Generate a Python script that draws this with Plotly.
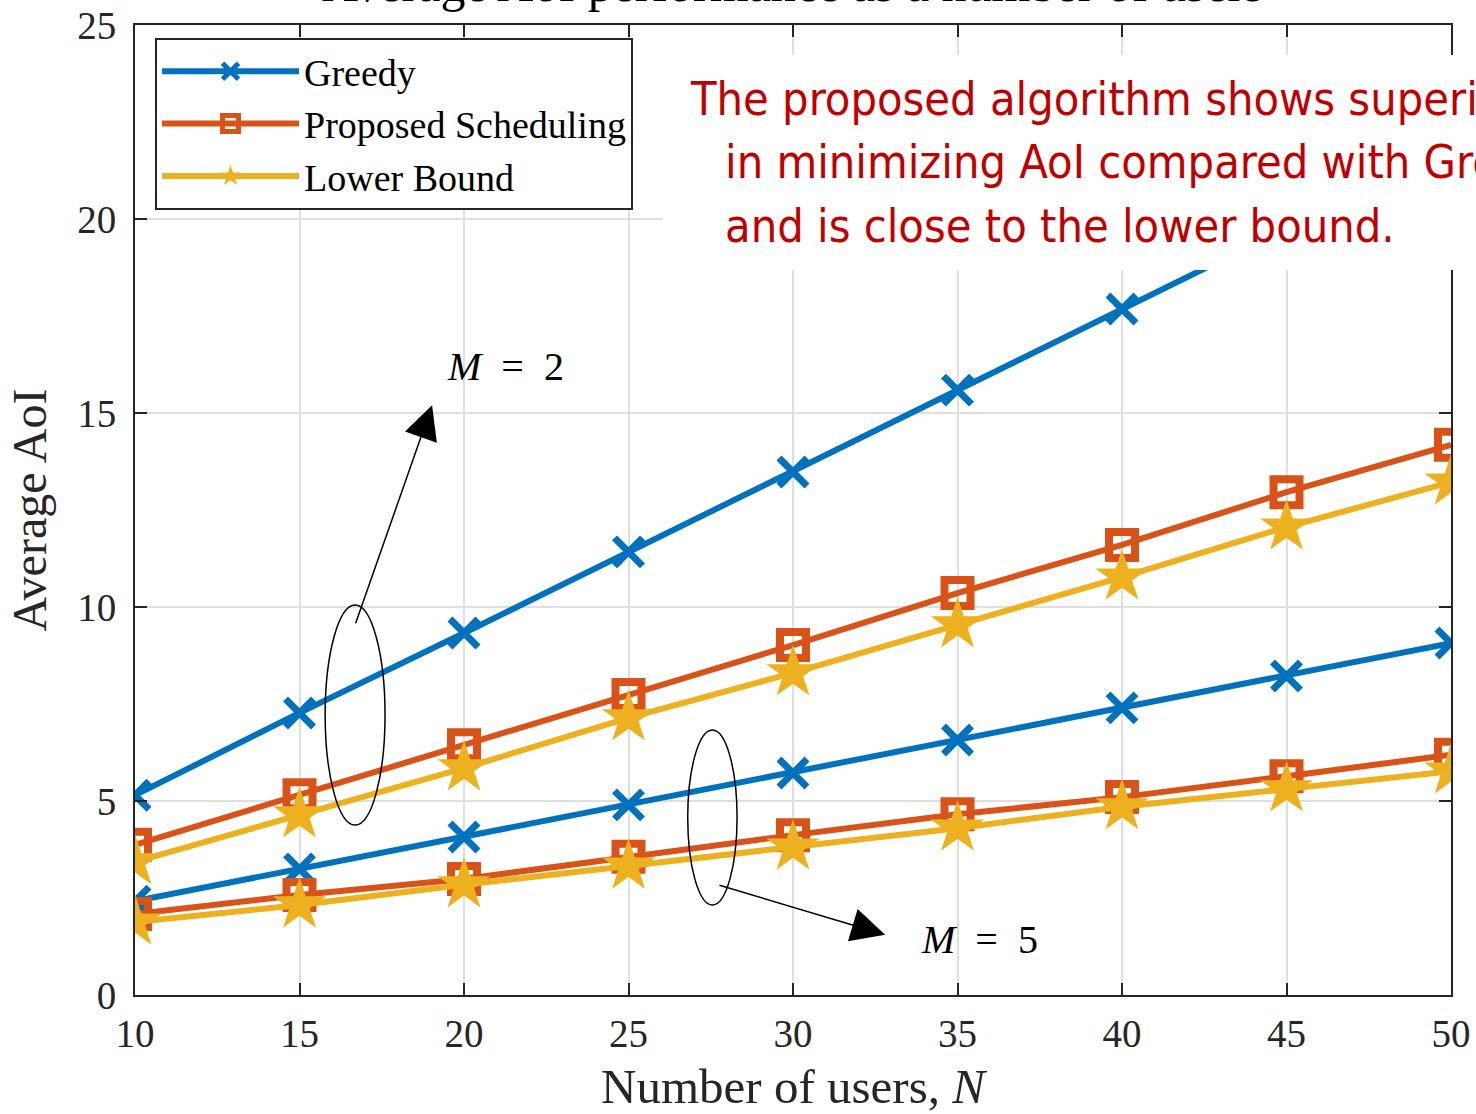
import plotly.graph_objects as go

# ---------------- data ----------------
users_n = [10, 15, 20, 25, 30, 35, 40, 45, 50]

greedy_m2 = [5.15, 7.27, 9.33, 11.42, 13.48, 15.59, 17.68, 19.75, 21.85]
proposed_m2 = [3.87, 5.15, 6.44, 7.73, 9.02, 10.36, 11.60, 12.96, 14.18]
lower_m2 = [3.43, 4.64, 5.85, 7.14, 8.30, 9.54, 10.77, 12.06, 13.22]

greedy_m5 = [2.42, 3.25, 4.07, 4.90, 5.72, 6.57, 7.40, 8.22, 9.07]
proposed_m5 = [2.09, 2.58, 2.99, 3.56, 4.12, 4.66, 5.10, 5.64, 6.19]
lower_m5 = [1.88, 2.32, 2.84, 3.32, 3.81, 4.30, 4.85, 5.31, 5.77]

series_names = ["Greedy", "Proposed Scheduling", "Lower Bound"]
x_ticks = [10, 15, 20, 25, 30, 35, 40, 45, 50]
y_ticks = [0, 5, 10, 15, 20, 25]

# ---------------- style ----------------
BLUE = "#0072BD"
ORANGE = "#D95319"
YELLOW = "#EDB120"
AX = "#262626"
SERIF = "Liberation Serif, DejaVu Serif, serif"
NARROW = "Liberation Sans Narrow, DejaVu Sans Condensed, Roboto Condensed, sans-serif"

styles = [
    dict(color=BLUE, marker=dict(symbol="x-thin", size=28, color=BLUE,
                                 line=dict(color=BLUE, width=7))),
    dict(color=ORANGE, marker=dict(symbol="square-open", size=26, color=ORANGE,
                                   line=dict(color=ORANGE, width=8))),
    dict(color=YELLOW, marker=dict(symbol="star", size=40, color=YELLOW,
                                   line=dict(color=YELLOW, width=0))),
]

fig = go.Figure()

groups = [
    ((greedy_m2, proposed_m2, lower_m2), True),
    ((greedy_m5, proposed_m5, lower_m5), False),
]
for ys3, show in groups:
    for name, ys, st in zip(series_names, ys3, styles):
        fig.add_trace(go.Scatter(
            x=users_n, y=ys, mode="lines+markers", name=name,
            legendgroup=name, showlegend=show,
            line=dict(color=st["color"], width=6),
            marker=st["marker"],
        ))

# ---------------- layout ----------------
L, R, T, B = 135, 25, 25, 119
W, H = 1476, 1114
pw, ph = W - L - R, H - T - B


def px_to_paper_x(px):
    return (px - L) / pw


def px_to_paper_y(py):
    return (H - B - py) / ph


axis_common = dict(
    showline=True, linecolor=AX, linewidth=2, mirror="ticks",
    ticks="inside", ticklen=12, tickwidth=2, tickcolor=AX,
    showgrid=True, gridcolor="#DFDFDF", gridwidth=2,
    zeroline=False, automargin=False,
    tickfont=dict(family=SERIF, size=39, color=AX),
)

fig.update_layout(
    width=W, height=H,
    margin=dict(l=L, r=R, t=T, b=B),
    paper_bgcolor="white", plot_bgcolor="white",
    xaxis=dict(range=[10, 50], tickvals=x_ticks, ticklabelstandoff=3,
               title=dict(text="Number of users, <i>N</i>",
                          font=dict(family=SERIF, size=49, color=AX), standoff=17),
               **axis_common),
    yaxis=dict(range=[0, 25], tickvals=y_ticks, ticklabelstandoff=9,
               title=dict(text="Average AoI",
                          font=dict(family=SERIF, size=48, color=AX), standoff=15),
               **axis_common),
    legend=dict(x=px_to_paper_x(155), y=px_to_paper_y(38), xanchor="left", yanchor="top",
                bgcolor="white", bordercolor=AX, borderwidth=2,
                font=dict(family=SERIF, size=38, color="black"),
                itemwidth=137, tracegroupgap=0),
    showlegend=True,
)

# white box behind the red remark
fig.add_shape(type="rect", xref="paper", yref="paper",
              x0=px_to_paper_x(663), x1=1.2, y0=px_to_paper_y(270), y1=px_to_paper_y(55),
              fillcolor="white", line=dict(width=0), layer="above")

# title (partly cut at the top of the image)
fig.add_annotation(text="Average AoI performance as a number of users",
                   xref="paper", yref="paper", x=0.5, y=px_to_paper_y(14),
                   xanchor="center", yanchor="bottom", showarrow=False,
                   font=dict(family=SERIF, size=50, color="black"))

# red remark lines
remark = [
    ("The proposed algorithm shows superiority", 688, 99),
    ("in minimizing AoI compared with Greedy", 723, 162),
    ("and is close to the lower bound.", 723, 226),
]
for txt, px, py in remark:
    fig.add_annotation(text=txt, xref="paper", yref="paper",
                       x=px_to_paper_x(px), y=px_to_paper_y(py),
                       xanchor="left", yanchor="middle", showarrow=False,
                       font=dict(family=NARROW, size=46.5, color="#C00000"))

# ellipses
fig.add_shape(type="circle", xref="x", yref="y", x0=15.78, x1=17.6, y0=4.38, y1=10.05,
              line=dict(color="black", width=1.5), layer="above")
fig.add_shape(type="circle", xref="x", yref="y", x0=26.8, x1=28.3, y0=2.32, y1=6.83,
              line=dict(color="black", width=1.5), layer="above")

# arrows
fig.add_annotation(x=19.03, y=15.2, ax=16.69, ay=9.54, xref="x", yref="y",
                   axref="x", ayref="y", text="", showarrow=True,
                   arrowhead=2, arrowsize=4.5, arrowwidth=1.5, arrowcolor="black")
fig.add_annotation(x=32.8, y=1.55, ax=27.72, ay=2.84, xref="x", yref="y",
                   axref="x", ayref="y", text="", showarrow=True,
                   arrowhead=2, arrowsize=4.5, arrowwidth=1.5, arrowcolor="black")

# labels
fig.add_annotation(x=21.25, y=16.2, xref="x", yref="y", text="<i>M</i>&nbsp; =&nbsp; 2",
                   showarrow=False, font=dict(family=SERIF, size=40, color="black"))
fig.add_annotation(x=35.68, y=1.42, xref="x", yref="y", text="<i>M</i>&nbsp; =&nbsp; 5",
                   showarrow=False, font=dict(family=SERIF, size=40, color="black"))

fig.write_html("out.html")
